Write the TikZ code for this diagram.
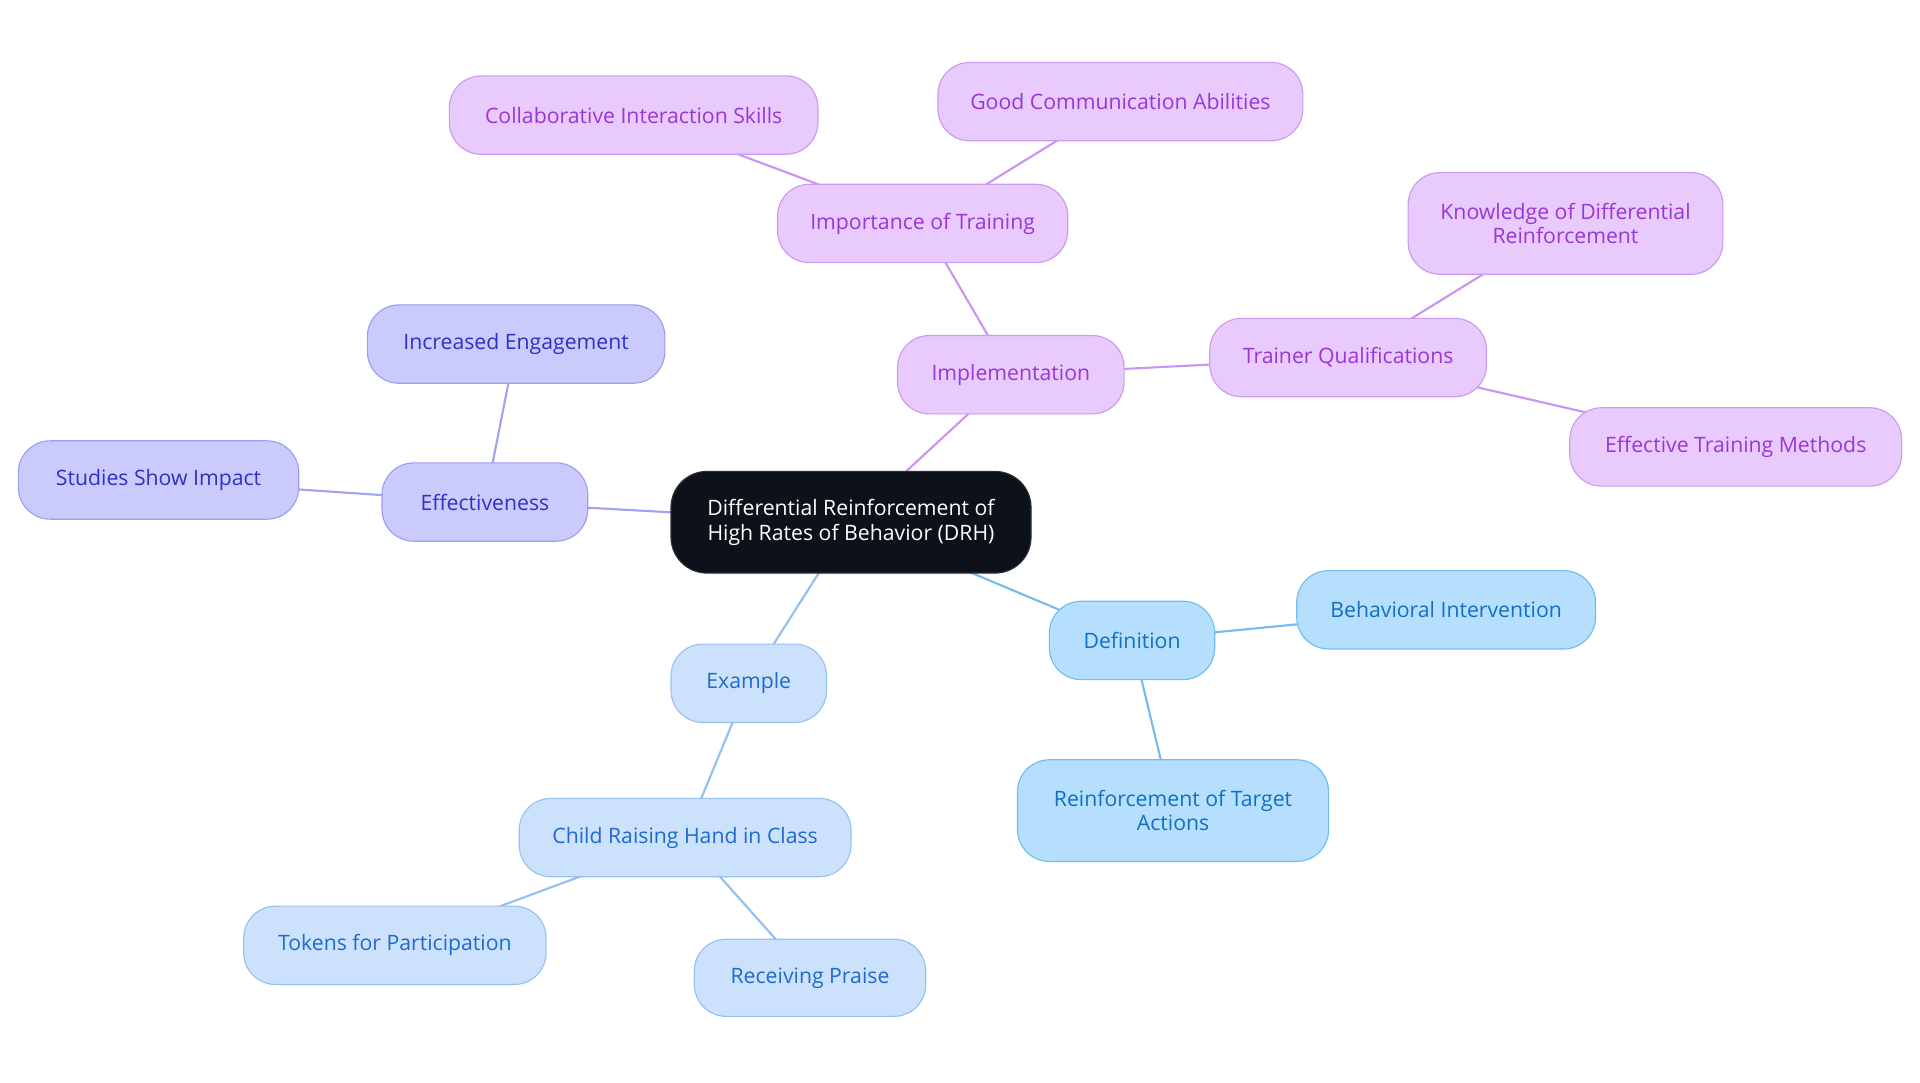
\documentclass[tikz,border=0pt]{standalone}
\usepackage{fontspec}
\setmainfont{Open Sans}
\usetikzlibrary{backgrounds}
\begin{document}
\begin{tikzpicture}[x=0.75pt,y=-0.75pt,
  sz/.style 2 args={minimum width=#1*0.75pt, minimum height=#2*0.75pt},
  base/.style={draw, rounded corners=19.5pt, inner sep=0pt, align=center, line width=0.7pt,
     font=\fontsize{13pt}{15pt}\selectfont},
  centre/.style={base, fill=cdark, draw=cdarkb, text=white, rounded corners=22pt},
  effbox/.style={base, fill=effF, draw=effD, text=effT},
  impbox/.style={base, fill=impF, draw=impD, text=impT},
  defbox/.style={base, fill=defF, draw=defD, text=defT},
  exabox/.style={base, fill=exaF, draw=exaD, text=exaT},
  link/.style={line width=1.3pt},
  efflink/.style={link, draw=effL},
  implink/.style={link, draw=impL},
  deflink/.style={link, draw=defL},
  exalink/.style={link, draw=exaL},
]
\definecolor{cdark}{HTML}{0C111A}
\definecolor{cdarkb}{HTML}{2A2F38}
\definecolor{effF}{HTML}{CACBFC}
\definecolor{effD}{HTML}{9C9EF0}
\definecolor{effT}{HTML}{2D31C6}
\definecolor{effL}{HTML}{A0A2F2}
\definecolor{impF}{HTML}{E8CAFC}
\definecolor{impD}{HTML}{CC9AF0}
\definecolor{impT}{HTML}{9A36D8}
\definecolor{impL}{HTML}{CC94F2}
\definecolor{defF}{HTML}{B5DFFD}
\definecolor{defD}{HTML}{72BDF0}
\definecolor{defT}{HTML}{1170C4}
\definecolor{defL}{HTML}{74BCF0}
\definecolor{exaF}{HTML}{CCE2FC}
\definecolor{exaD}{HTML}{96C2F2}
\definecolor{exaT}{HTML}{1E6ACE}
\definecolor{exaL}{HTML}{92C0F0}

\useasboundingbox (0,0) rectangle (1568,884.4);

% nodes
\node[centre, sz={294}{83}] (c) at (695,426.5) {Differential Reinforcement of\\High Rates of Behavior (DRH)};

\node[effbox, sz={168}{64}] (eff) at (396,410) {Effectiveness};
\node[effbox, sz={243}{64}] (inc) at (421.5,281) {Increased Engagement};
\node[effbox, sz={229}{64}] (stu) at (129.5,392) {Studies Show Impact};

\node[impbox, sz={185}{64}] (imp) at (825.5,306) {Implementation};
\node[impbox, sz={237}{64}] (iot) at (753.5,182.5) {Importance of Training};
\node[impbox, sz={301}{64}] (col) at (517.5,94) {Collaborative Interaction Skills};
\node[impbox, sz={298}{64}] (goo) at (915,83) {Good Communication Abilities};
\node[impbox, sz={226}{64}] (tra) at (1101,292) {Trainer Qualifications};
\node[impbox, sz={257}{83}] (kno) at (1278.5,182.5) {Knowledge of Differential\\Reinforcement};
\node[impbox, sz={271}{64}] (etm) at (1417.5,365) {Effective Training Methods};

\node[defbox, sz={135}{64}] (def) at (924.5,523) {Definition};
\node[defbox, sz={244}{64}] (beh) at (1181,498) {Behavioral Intervention};
\node[defbox, sz={254}{83}] (rei) at (958,662) {Reinforcement of Target\\Actions};

\node[exabox, sz={127}{64}] (exa) at (611.5,558) {Example};
\node[exabox, sz={271}{64}] (chi) at (559.5,684) {Child Raising Hand in Class};
\node[exabox, sz={247}{64}] (tok) at (322.5,772) {Tokens for Participation};
\node[exabox, sz={189}{63}] (rec) at (661.5,798.5) {Receiving Praise};

% connectors, drawn centre to centre behind the filled nodes
\begin{scope}[on background layer]
\fill[white] (0,0) rectangle (1568,884.4);
\draw[efflink] (c.center) -- (eff.center);
\draw[efflink] (eff.center) -- (inc.center);
\draw[efflink] (eff.center) -- (stu.center);
\draw[implink] (c.center) -- (imp.center);
\draw[implink] (imp.center) -- (iot.center);
\draw[implink] (iot.center) -- (col.center);
\draw[implink] (iot.center) -- (goo.center);
\draw[implink] (imp.center) -- (tra.center);
\draw[implink] (tra.center) -- (kno.center);
\draw[implink] (tra.center) -- (etm.center);
\draw[deflink] (c.center) -- (def.center);
\draw[deflink] (def.center) -- (beh.center);
\draw[deflink] (def.center) -- (rei.center);
\draw[exalink] (c.center) -- (exa.center);
\draw[exalink] (exa.center) -- (chi.center);
\draw[exalink] (chi.center) -- (tok.center);
\draw[exalink] (chi.center) -- (rec.center);
\end{scope}
\end{tikzpicture}
\end{document}
